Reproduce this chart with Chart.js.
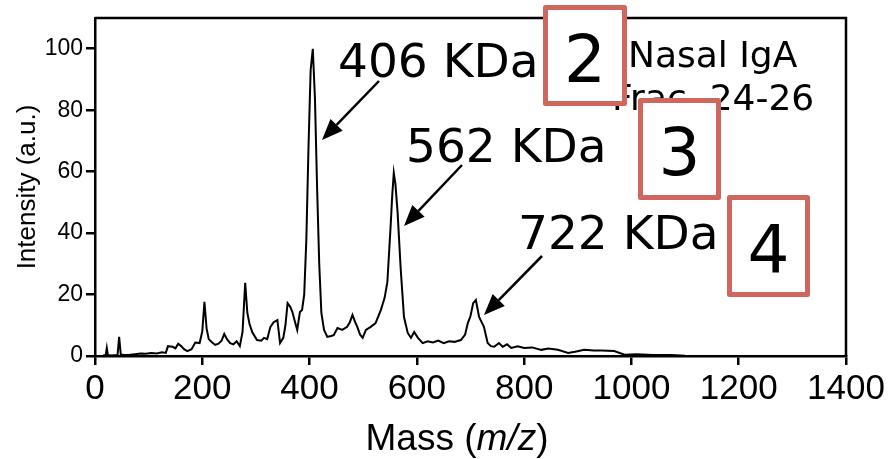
<!DOCTYPE html>
<html>
<head>
<meta charset="utf-8">
<script src="https://cdn.jsdelivr.net/npm/chart.js@4"></script>
<style>
  body { margin: 0; background: #fff; }
  canvas { display: block; }
</style>
</head>
<body>
<canvas id="spec" width="896" height="459"></canvas>
<script>
// mass spectrum (m/z, intensity a.u.)
const masses = [15, 20, 22, 24, 28, 42, 45, 48, 55, 65, 75, 85, 95, 105, 115, 125, 132, 136, 145, 150,
  155, 160, 166, 172, 180, 187, 195, 200, 204, 208, 212, 218, 224, 230, 236, 241, 246, 252, 258, 264,
  270, 275, 280, 284, 288, 293, 302, 310, 315, 321, 327, 333, 340, 345, 351, 355, 359, 364, 368, 373,
  377, 382, 386, 390, 394, 398, 402, 406, 410, 414, 418, 422, 427, 433, 440, 445, 452, 461, 470, 475,
  480, 485, 489, 494, 499, 505, 514, 523, 533, 540, 545, 551, 554, 557, 560, 564, 570, 576, 583, 589,
  595, 602, 611, 620, 630, 640, 650, 660, 670, 682, 690, 695, 700, 705, 710, 716, 725, 732, 738, 744,
  753, 760, 768, 776, 788, 800, 815, 832, 845, 863, 882, 895, 912, 930, 944, 968, 987, 1010, 1040, 1075,
  1100, 1130];
const intensity = [0.2, 0.3, 2.6, 0.3, 0.2, 0.3, 6.2, 0.5, 0.3, 0.4, 0.6, 0.8, 0.7, 1.0, 0.8, 1.2, 1.0, 3.2, 3.0, 2.5,
  4.0, 3.3, 2.2, 1.6, 2.2, 4.4, 4.2, 8, 17.6, 9, 5.5, 4.5, 3.6, 4.0, 5.0, 7.2, 5.5, 4.2, 3.8, 4.8,
  3.2, 7.8, 23.8, 14, 10.5, 7.8, 5.2, 5.0, 5.9, 5.5, 9.5, 11, 11.7, 4.2, 5.9, 10, 17.2, 16, 14.3, 11,
  8.5, 14.3, 15, 20, 38, 68, 93, 100, 84, 55, 30, 14, 8.5, 6.2, 6.5, 6.8, 9.1, 8.5, 9.5, 11,
  13.4, 11, 9.5, 7, 5.9, 8.5, 9.5, 10.7, 15, 19, 24, 42, 52, 59.6, 56, 47, 28, 12.7, 7.5, 5.9,
  7.8, 5.9, 4.2, 4.8, 4.4, 5.0, 4.2, 4.8, 4.6, 5.2, 7, 10.7, 13, 17.2, 18.2, 12.7, 9.5, 4.2, 3.2, 3.0,
  4.2, 3.0, 3.8, 2.6, 3.2, 2.6, 2.8, 2.0, 2.4, 2.0, 1.0, 1.4, 2.0, 1.8, 1.8, 1.6, 0.4, 0.6, 0.3, 0.3,
  0.1, 0];

const peakLabels = ["406 KDa", "562 KDa", "722 KDa"];
const sampleLines = ["Nasal IgA", "Frac. 24-26"];
const boxNumbers = ["2", "3", "4"];

const points = masses.map((m, i) => ({ x: m, y: intensity[i] }));

function arrow(ctx, x1, y1, x2, y2) {
  const a = Math.atan2(y2 - y1, x2 - x1);
  const len = 21, half = 8.5;
  const bx = x2 - len * Math.cos(a), by = y2 - len * Math.sin(a);
  ctx.beginPath();
  ctx.moveTo(x1, y1);
  ctx.lineTo(bx, by);
  ctx.stroke();
  ctx.beginPath();
  ctx.moveTo(x2, y2);
  ctx.lineTo(bx + half * Math.sin(a), by - half * Math.cos(a));
  ctx.lineTo(bx - half * Math.sin(a), by + half * Math.cos(a));
  ctx.closePath();
  ctx.fill();
}

const extras = {
  id: "extras",
  afterDraw(chart) {
    const ctx = chart.ctx;
    const a = chart.chartArea;
    ctx.save();
    // top + right frame
    ctx.strokeStyle = "#000";
    ctx.lineWidth = 2.5;
    ctx.beginPath();
    ctx.moveTo(a.left, a.top);
    ctx.lineTo(a.right, a.top);
    ctx.lineTo(a.right, a.bottom);
    ctx.stroke();

    // x title with italic m/z
    ctx.fillStyle = "#000";
    ctx.textBaseline = "alphabetic";
    const f1 = "37px 'Liberation Sans', Arial, sans-serif";
    const f2 = "italic 37px 'Liberation Sans', Arial, sans-serif";
    const parts = [["Mass (", f1], ["m/z", f2], [")", f1]];
    let w = 0;
    parts.forEach(p => { ctx.font = p[1]; w += ctx.measureText(p[0]).width; });
    let x = 457 - w / 2;
    parts.forEach(p => {
      ctx.font = p[1];
      ctx.textAlign = "left";
      ctx.fillText(p[0], x, 450);
      x += ctx.measureText(p[0]).width;
    });

    // peak labels + arrows
    ctx.font = "47px 'DejaVu Sans', sans-serif";
    ctx.fillText(peakLabels[0], 338, 77);
    ctx.fillText(peakLabels[1], 406, 162);
    ctx.fillText(peakLabels[2], 518, 249);
    ctx.lineWidth = 2.5;
    arrow(ctx, 379, 81, 322, 140);
    arrow(ctx, 462, 165, 404, 226);
    arrow(ctx, 542, 256, 484, 315);

    ctx.font = "36px 'DejaVu Sans', sans-serif";
    ctx.fillText(sampleLines[0], 628, 67);
    ctx.fillText(sampleLines[1], 612, 110);

    // numbered boxes
    const boxes = [[543, 5, 84, 101, 82], [638, 98, 83, 102, 175], [727, 195, 83, 102, 272]];
    boxes.forEach((b, i) => {
      ctx.fillStyle = "#fff";
      ctx.fillRect(b[0], b[1], b[2], b[3]);
      ctx.strokeStyle = "#d0675f";
      ctx.lineWidth = 5;
      ctx.lineJoin = "round";
      ctx.strokeRect(b[0] + 2.5, b[1] + 2.5, b[2] - 5, b[3] - 5);
      ctx.fillStyle = "#000";
      ctx.font = "66px 'DejaVu Sans', sans-serif";
      ctx.textAlign = "center";
      ctx.fillText(boxNumbers[i], b[0] + b[2] / 2, b[4]);
      ctx.textAlign = "left";
    });
    ctx.restore();
  }
};

new Chart(document.getElementById("spec"), {
  type: "line",
  data: {
    datasets: [{
      data: points,
      borderColor: "#000",
      borderWidth: 2,
      pointRadius: 0,
      tension: 0,
      fill: false
    }]
  },
  options: {
    responsive: false,
    animation: false,
    devicePixelRatio: 1,
    layout: { padding: { left: 0, top: 18, right: 50, bottom: 0 } },
    plugins: { legend: { display: false }, tooltip: { enabled: false } },
    scales: {
      x: {
        type: "linear",
        min: 0,
        max: 1400,
        afterFit(s) { s.height = 103; },
        border: { display: true, color: "#000", width: 2.5 },
        grid: { drawOnChartArea: false, drawTicks: true, tickLength: 9, color: "#000", lineWidth: 2.5 },
        ticks: {
          stepSize: 200,
          color: "#000",
          padding: 3,
          maxRotation: 0,
          callback: (v) => String(v),
          font: { family: "'Liberation Sans', Arial, sans-serif", size: 35 }
        }
      },
      y: {
        min: 0,
        max: 110,
        afterFit(s) { s.width = 95; },
        afterBuildTicks(s) { s.ticks = s.ticks.filter(t => t.value <= 100); },
        border: { display: true, color: "#000", width: 2.5 },
        grid: { drawOnChartArea: false, drawTicks: true, tickLength: 9, color: "#000", lineWidth: 2.5 },
        ticks: {
          stepSize: 20,
          color: "#000",
          padding: 3,
          callback: (v) => String(v),
          font: { family: "'Liberation Sans', Arial, sans-serif", size: 23 }
        },
        title: {
          display: true,
          text: "Intensity (a.u.)",
          color: "#000",
          padding: { top: 12, bottom: 0 },
          font: { family: "'Liberation Sans', Arial, sans-serif", size: 26 }
        }
      }
    }
  },
  plugins: [extras]
});
</script>
</body>
</html>
